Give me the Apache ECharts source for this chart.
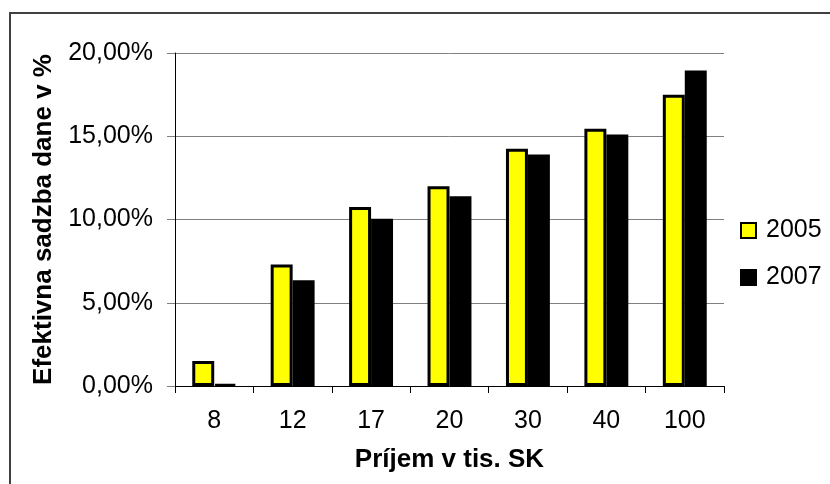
<!DOCTYPE html>
<html>
<head>
<meta charset="utf-8">
<script src="https://cdn.jsdelivr.net/npm/echarts@6/dist/echarts.min.js"></script>
<style>
html,body{margin:0;padding:0;background:#fff;}
#chart{width:830px;height:484px;}
</style>
</head>
<body>
<div id="chart"></div>
<script>
var categories = ["8", "12", "17", "20", "30", "40", "100"];
var series2005 = [1.5, 7.3, 10.75, 12.0, 14.25, 15.45, 17.5];
var series2007 = [0.1, 6.35, 10.05, 11.4, 13.9, 15.1, 18.95];
var yTickLabels = ["0,00%", "5,00%", "10,00%", "15,00%", "20,00%"];
var seriesNames = ["2005", "2007"];
var xTitle = "Príjem v tis. SK";
var yTitle = "Efektivna sadzba dane v %";

var FONT = "Liberation Sans";
var chart = echarts.init(document.getElementById('chart'), null, {renderer: 'canvas'});
chart.setOption({
  animation: false,
  backgroundColor: '#fff',
  graphic: [{
    type: 'rect', silent: true, z: -1,
    shape: {x: 10, y: 13, width: 1000, height: 1000},
    style: {fill: 'none', stroke: '#404040', lineWidth: 2}
  }],
  grid: {left: 175, right: 106, top: 53, bottom: 98},
  legend: {
    orient: 'vertical', left: 740, top: 218, padding: 0,
    itemWidth: 15, itemHeight: 15, itemGap: 22,
    icon: 'rect',
    textStyle: {fontFamily: FONT, fontSize: 25, color: '#000', lineHeight: 25, padding: [0, 0, 0, 5]},
    data: seriesNames
  },
  xAxis: {
    type: 'category', data: categories,
    axisLine: {lineStyle: {color: '#000', width: 1}},
    axisTick: {show: true, length: 7, alignWithLabel: false, lineStyle: {color: '#000'}},
    axisLabel: {fontFamily: FONT, fontSize: 25, color: '#000', margin: 23},
    name: xTitle, nameLocation: 'middle', nameGap: 61,
    nameTextStyle: {fontFamily: FONT, fontSize: 26, fontWeight: 'bold', color: '#000'}
  },
  yAxis: {
    type: 'value', min: 0, max: 20, interval: 5,
    axisLine: {show: true, lineStyle: {color: '#000', width: 1}},
    axisTick: {show: true, length: 8, lineStyle: {color: '#808080'}},
    splitLine: {show: true, lineStyle: {color: '#808080', width: 1}},
    axisLabel: {fontFamily: FONT, fontSize: 25, color: '#000', margin: 22,
      formatter: function (v, i) { return yTickLabels[i]; }},
    name: yTitle, nameLocation: 'middle', nameGap: 118, nameRotate: 90,
    nameTextStyle: {fontFamily: FONT, fontSize: 26, fontWeight: 'bold', color: '#000'}
  },
  series: [{
    name: seriesNames[0], type: 'bar', data: series2005,
    barGap: '0%', barCategoryGap: '44%',
    itemStyle: {color: '#FFFF00', borderColor: '#000', borderWidth: 3}
  }, {
    name: seriesNames[1], type: 'bar', data: series2007,
    barGap: '0%', barCategoryGap: '44%',
    itemStyle: {color: '#000', borderColor: '#000', borderWidth: 3}
  }]
});
</script>
</body>
</html>
